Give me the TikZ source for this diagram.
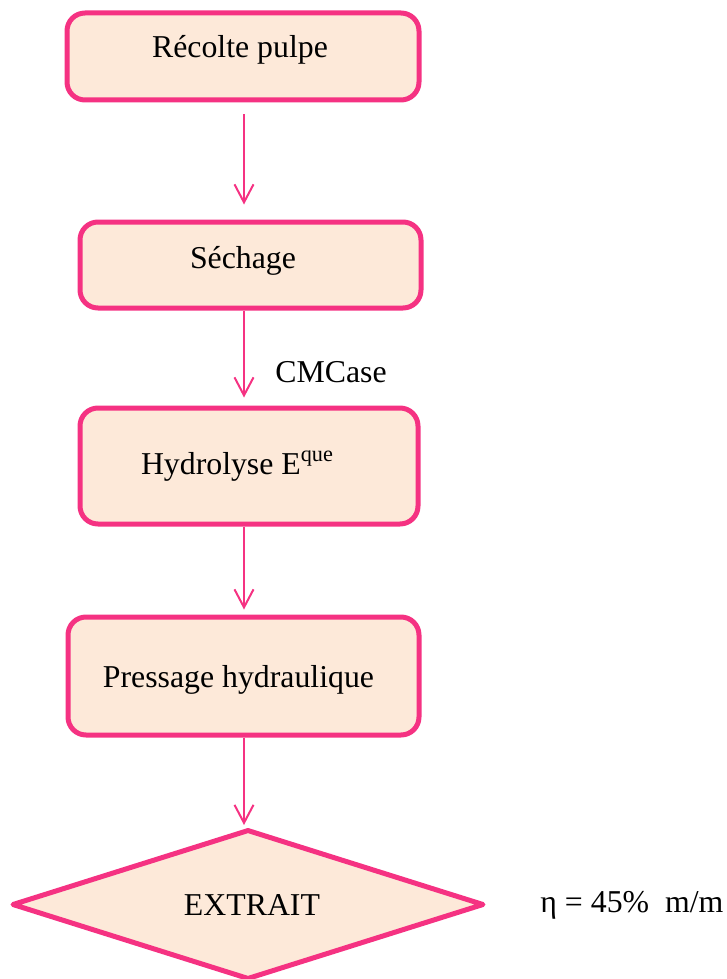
\documentclass[tikz,border=0pt]{standalone}
\usepackage{fontspec}
\setmainfont{Liberation Serif}
\usetikzlibrary{arrows.meta,shapes.geometric}
\definecolor{pinkline}{RGB}{245,50,130}
\definecolor{peach}{RGB}{253,233,217}
\tikzset{
  stepbox/.style={draw=pinkline,fill=peach,line width=2.5pt,rounded corners=9pt,inner sep=0pt},
  decbox/.style={diamond,draw=pinkline,fill=peach,line width=2.5pt,inner sep=0pt,line join=round},
  arr/.style={draw=pinkline,line width=1pt,-{Straight Barb[length=9pt,width=9.5pt,line width=1pt]}},
  txt/.style={font=\fontsize{15.9}{19}\selectfont,inner sep=0pt,text=black}
}
\begin{document}
\begin{tikzpicture}[x=0.5pt,y=-0.5pt]
\useasboundingbox (0,0) rectangle (727,979);
\node[stepbox,minimum width=176pt,minimum height=43.5pt] (b1) at (243,56.5) {};
\node[stepbox,minimum width=170.5pt,minimum height=43pt] (b2) at (250.5,265) {};
\node[stepbox,minimum width=169pt,minimum height=58pt] (b3) at (249,466) {};
\node[stepbox,minimum width=175.5pt,minimum height=59pt] (b4) at (243.5,676) {};
\node[decbox,minimum width=236pt,minimum height=75pt] (d) at (248,904.5) {};
\node[txt] (t1) at (240,50) {Récolte pulpe};
\node[txt] (t2) at (243,261) {Séchage};
\node[txt] (t3) at (237.5,466) {Hydrolyse E\textsuperscript{que}};
\node[txt] (t4) at (238.5,680) {Pressage hydraulique};
\node[txt] (t5) at (252,905) {EXTRAIT};
\node[txt,anchor=west] (eta) at (540,905) {η = 45\%~ m/m};
\node[txt] (cm) at (331,372) {CMCase};
\coordinate (ax) at (244,0);
\draw[arr,shorten <=6pt,shorten >=7.5pt] (b1.south -| ax) -- (b2.north -| ax);
\draw[arr,shorten >=4pt] (b2.south -| ax) -- (b3.north -| ax);
\draw[arr,shorten >=2.5pt] (b3.south -| ax) -- (b4.north -| ax);
\draw[arr,shorten >=1pt] (b4.south -| ax) -- (d.north -| ax);
\end{tikzpicture}
\end{document}
